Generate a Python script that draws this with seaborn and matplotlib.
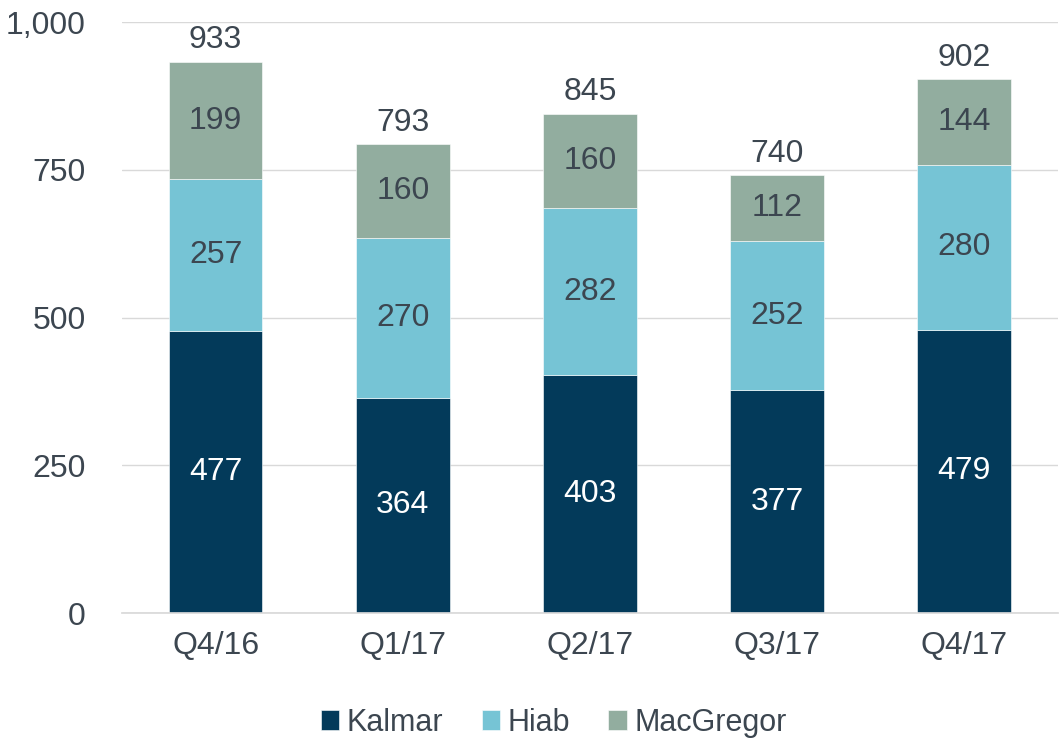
import pandas as pd
import numpy as np
import matplotlib.pyplot as plt
import seaborn as sns

quarters = ["Q4/16", "Q1/17", "Q2/17", "Q3/17", "Q4/17"]
kalmar = [477, 364, 403, 377, 479]
hiab = [257, 270, 282, 252, 280]
macgregor = [199, 160, 160, 112, 144]
totals = [933, 793, 845, 740, 902]

series = ["Kalmar", "Hiab", "MacGregor"]
colors = {"Kalmar": "#033A5A", "Hiab": "#76C4D5", "MacGregor": "#92AD9F"}
text_color = "#3C4650"

df = pd.DataFrame({"quarter": quarters, "Kalmar": kalmar, "Hiab": hiab, "MacGregor": macgregor})

sns.set_theme(style="white")
plt.rcParams["font.family"] = ["Liberation Sans", "DejaVu Sans"]

fig, ax = plt.subplots(figsize=(10.61, 7.39), dpi=100)
fig.subplots_adjust(left=0.115, right=0.997, top=0.970, bottom=0.1705)

# stacked bars, one layer per segment
bottom = np.zeros(len(quarters))
for name in series:
    sns.barplot(data=df, x="quarter", y=name, color=colors[name], bottom=bottom,
                width=0.5, saturation=1, ax=ax, label=name,
                edgecolor="white", linewidth=0.4)
    lab_col = "white" if name == "Kalmar" else text_color
    for i, v in enumerate(df[name]):
        ax.text(i, bottom[i] + v / 2, str(v), ha="center", va="center",
                fontsize=23, color=lab_col)
    bottom = bottom + df[name].values

for i, t in enumerate(totals):
    ax.annotate(str(t), (i, t), xytext=(0, 5), textcoords="offset points",
                ha="center", va="bottom", fontsize=23, color=text_color)

ax.set_ylim(0, 1000)
ax.set_xlim(-0.5, 4.5)
ax.set_yticks([0, 250, 500, 750, 1000])
ax.set_yticklabels(["0", "250", "500", "750", "1,000"])
ax.yaxis.grid(True, color="#D9D9D9", linewidth=1)
ax.set_axisbelow(True)
ax.set_xlabel("")
ax.set_ylabel("")
for s in ["top", "right", "left"]:
    ax.spines[s].set_visible(False)
ax.spines["bottom"].set_color("#D9D9D9")
ax.tick_params(axis="both", length=0, labelsize=23, labelcolor=text_color)
ax.tick_params(axis="y", pad=26)
ax.tick_params(axis="x", pad=13)

handles, labels = ax.get_legend_handles_labels()
if ax.get_legend():
    ax.get_legend().remove()
fig.legend(handles, labels, loc="center", bbox_to_anchor=(0.522, 0.022),
           ncol=3, frameon=False, fontsize=22, handlelength=0.6, handleheight=0.6,
           handletextpad=0.25, columnspacing=1.25, labelcolor=text_color)

plt.savefig("out.png", dpi=100)
